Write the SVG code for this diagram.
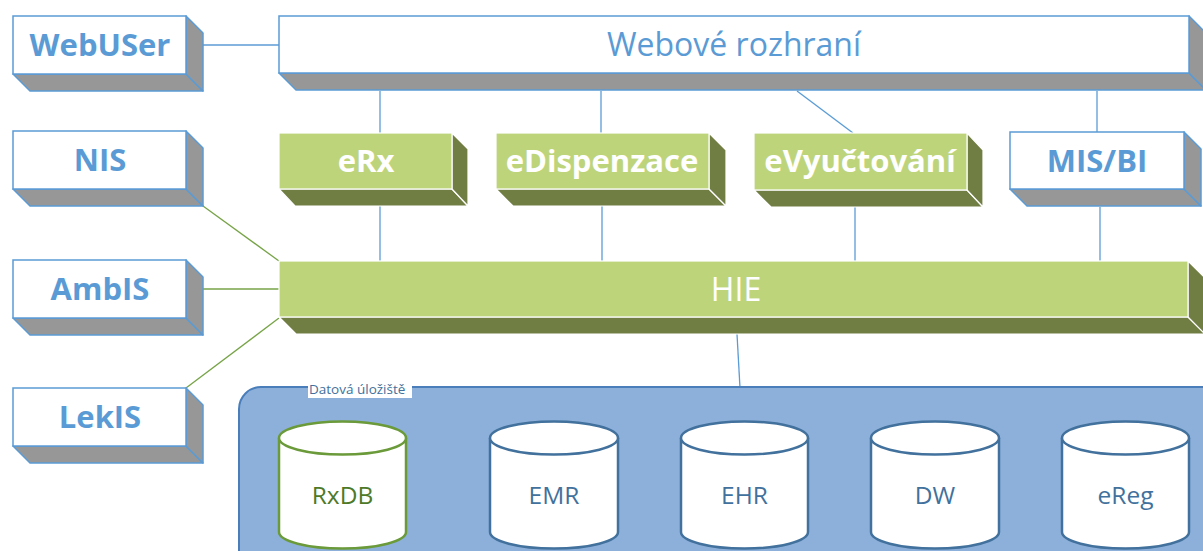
<svg xmlns="http://www.w3.org/2000/svg" width="1203" height="551" viewBox="0 0 1203 551">
<style>
.wf{fill:#ffffff;stroke:#5B9BD5;stroke-width:1.5}
.wd{fill:#979797;stroke:#5B9BD5;stroke-width:1.5;stroke-linejoin:round}
.gf{fill:#BED47B;stroke:#ffffff;stroke-width:1.2}
.gd{fill:#707E44;stroke:#ffffff;stroke-width:1.2;stroke-linejoin:round}
.bt{font-family:"Open Sans","Liberation Sans",sans-serif;font-weight:bold;font-size:31px;fill:#5B9BD5;text-anchor:middle}
.gt{font-family:"Open Sans","Liberation Sans",sans-serif;font-weight:bold;font-size:31px;fill:#ffffff;text-anchor:middle}
.rt{font-family:"Open Sans","Liberation Sans",sans-serif;font-size:32px;text-anchor:middle}
.cyl{fill:#ffffff;stroke:#41719C;stroke-width:2.5}
.cylg{fill:#ffffff;stroke:#6A9A39;stroke-width:2.5}
.ct{font-family:"Open Sans","Liberation Sans",sans-serif;font-size:24.5px;fill:#41719C;text-anchor:middle}
.bl{stroke:#5B9BD5;stroke-width:1.3;fill:none}
.gl{stroke:#77A347;stroke-width:1.3;fill:none}
</style>

<g id="connectors">
<line class="bl" x1="203" y1="45" x2="279" y2="45"/>
<line class="bl" x1="380" y1="91" x2="380" y2="133"/>
<line class="bl" x1="601" y1="91" x2="601" y2="133"/>
<line class="bl" x1="797" y1="91" x2="853" y2="133"/>
<line class="bl" x1="1097" y1="91" x2="1097" y2="132"/>
<line class="bl" x1="380" y1="206" x2="380" y2="261"/>
<line class="bl" x1="602" y1="206" x2="602" y2="261"/>
<line class="bl" x1="855" y1="207" x2="855" y2="261"/>
<line class="bl" x1="1100" y1="207" x2="1100" y2="261"/>
<line class="bl" x1="737" y1="334" x2="740" y2="388"/>
<line class="gl" x1="203" y1="206" x2="279" y2="261"/>
<line class="gl" x1="203" y1="289" x2="279" y2="289"/>
<line class="gl" x1="186" y1="388" x2="279" y2="318"/>
</g>

<g id="webuser">
<polygon class="wd" points="13,74 186,74 203,91 30,91"/>
<polygon class="wd" points="186,16 203,33 203,91 186,74"/>
<rect class="wf" x="13" y="16" width="173" height="58"/>
<text class="bt" x="100" y="56">WebUSer</text>
</g>
<g id="nis">
<polygon class="wd" points="13,189 186,189 203,206 30,206"/>
<polygon class="wd" points="186,131 203,148 203,206 186,189"/>
<rect class="wf" x="13" y="131" width="173" height="58"/>
<text class="bt" x="100" y="171">NIS</text>
</g>
<g id="ambis">
<polygon class="wd" points="13,318 186,318 203,335 30,335"/>
<polygon class="wd" points="186,260 203,277 203,335 186,318"/>
<rect class="wf" x="13" y="260" width="173" height="58"/>
<text class="bt" x="100" y="300">AmbIS</text>
</g>
<g id="lekis">
<polygon class="wd" points="13,446 186,446 203,463 30,463"/>
<polygon class="wd" points="186,388 203,405 203,463 186,446"/>
<rect class="wf" x="13" y="388" width="173" height="58"/>
<text class="bt" x="100" y="428">LekIS</text>
</g>

<g id="webove">
<polygon class="wd" points="279,73 1189,73 1206,90 296,90"/>
<polygon class="wd" points="1189,16 1206,33 1206,90 1189,73"/>
<rect class="wf" x="279" y="16" width="910" height="57"/>
<text class="rt" x="734" y="56" fill="#5B9BD5">Webové rozhraní</text>
</g>

<g id="erx">
<polygon class="gd" points="279,189 452,189 468,206 295,206"/>
<polygon class="gd" points="452,133 468,149 468,206 452,189"/>
<rect class="gf" x="279" y="133" width="173" height="56"/>
<text class="gt" x="366" y="172">eRx</text>
</g>
<g id="edispenzace">
<polygon class="gd" points="496,189 709,189 726,206 513,206"/>
<polygon class="gd" points="709,133 726,150 726,206 709,189"/>
<rect class="gf" x="496" y="133" width="213" height="56"/>
<text class="gt" x="602" y="172">eDispenzace</text>
</g>
<g id="evyuctovani">
<polygon class="gd" points="754,190 967,190 983,207 771,207"/>
<polygon class="gd" points="967,133 983,150 983,207 967,190"/>
<rect class="gf" x="754" y="133" width="213" height="57"/>
<text class="gt" x="860" y="172">eVyučtování</text>
</g>
<g id="misbi">
<polygon class="wd" points="1010,189 1184,189 1201,206 1027,206"/>
<polygon class="wd" points="1184,132 1201,149 1201,206 1184,189"/>
<rect class="wf" x="1010" y="132" width="174" height="57"/>
<text class="bt" x="1097" y="172">MIS/BI</text>
</g>

<g id="hie">
<polygon class="gd" points="279,317 1188,317 1205,334 296,334"/>
<polygon class="gd" points="1188,261 1205,278 1205,334 1188,317"/>
<rect class="gf" x="279" y="261" width="909" height="56"/>
<text class="rt" x="736" y="301" fill="#ffffff">HIE</text>
</g>

<g id="datova-uloziste">
<rect x="239" y="387" width="985" height="200" rx="22" fill="#8DB0DB" stroke="#4A7EBB" stroke-width="2"/>
<rect x="308" y="381" width="104" height="17" fill="#ffffff"/>
<text x="309" y="394" font-family="'Open Sans','Liberation Sans',sans-serif" font-size="13.5" fill="#41719C">Datová úložiště</text>
</g>

<g id="rxdb">
<path class="cylg" d="M279,438 V532 A63.5,16.5 0 0 0 406,532 V438"/>
<ellipse class="cylg" cx="342.5" cy="438" rx="63.5" ry="16.5"/>
<text class="ct" x="342.5" y="504" style="fill:#4E7A28">RxDB</text>
</g>
<g id="emr">
<path class="cyl" d="M490,438 V532 A64,16.5 0 0 0 618,532 V438"/>
<ellipse class="cyl" cx="554" cy="438" rx="64" ry="16.5"/>
<text class="ct" x="554" y="504">EMR</text>
</g>
<g id="ehr">
<path class="cyl" d="M681,438 V532 A63.5,16.5 0 0 0 808,532 V438"/>
<ellipse class="cyl" cx="744.5" cy="438" rx="63.5" ry="16.5"/>
<text class="ct" x="744.5" y="504">EHR</text>
</g>
<g id="dw">
<path class="cyl" d="M871,438 V532 A64,16.5 0 0 0 999,532 V438"/>
<ellipse class="cyl" cx="935" cy="438" rx="64" ry="16.5"/>
<text class="ct" x="935" y="504">DW</text>
</g>
<g id="ereg">
<path class="cyl" d="M1062,438 V532 A63.5,16.5 0 0 0 1189,532 V438"/>
<ellipse class="cyl" cx="1125.5" cy="438" rx="63.5" ry="16.5"/>
<text class="ct" x="1125.5" y="504">eReg</text>
</g>
</svg>
